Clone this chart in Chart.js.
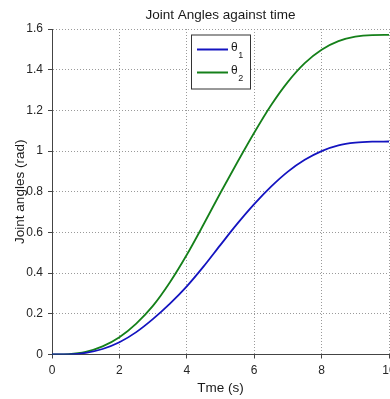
<!DOCTYPE html>
<html>
<head>
<meta charset="utf-8">
<script src="https://cdn.jsdelivr.net/npm/chart.js@4.4.1/dist/chart.umd.min.js"></script>
<style>
  html, body { margin: 0; padding: 0; background: #fff; overflow: hidden; }
  #wrap { position: relative; width: 390px; height: 399px; }
</style>
</head>
<body>
<div id="wrap"><canvas id="angleChart"></canvas></div>
<script>
// joint trajectories sampled every 0.5 s
var time   = [0, 0.5, 1, 1.5, 2, 2.5, 3, 3.5, 4, 4.5, 5, 5.5, 6, 6.5, 7, 7.5, 8, 8.5, 9, 9.5, 10];
var theta1 = [0, 0.001, 0.008, 0.027, 0.06, 0.11, 0.175, 0.25, 0.335, 0.433, 0.539, 0.643, 0.739, 0.825, 0.899, 0.957, 1.0, 1.028, 1.041, 1.046, 1.047];
var theta2 = [0, 0.002, 0.013, 0.04, 0.085, 0.152, 0.24, 0.355, 0.49, 0.64, 0.795, 0.945, 1.09, 1.225, 1.34, 1.432, 1.498, 1.54, 1.562, 1.57, 1.571];

var xTicks = [0, 2, 4, 6, 8, 10];
var yTicks = [0, 0.2, 0.4, 0.6, 0.8, 1, 1.2, 1.4, 1.6];

var seriesLabels = ['θ1', 'θ2']; // trailing digit is drawn as a subscript
var seriesColors = ['#1414c0', '#15801a'];

var titleText = 'Joint Angles against time';
var narrow = '"Liberation Sans Narrow", "Liberation Sans", Arial, sans-serif';

function toPoints(ys) {
  return time.map(function(t, i) { return { x: t, y: ys[i] }; });
}

// title + boxed legend, MATLAB style
var decor = {
  id: 'decor',
  afterDraw: function(chart) {
    var ctx = chart.ctx;
    var area = chart.chartArea;
    ctx.save();
    ctx.fillStyle = '#1a1a1a';
    ctx.font = '13.5px ' + narrow;
    ctx.textAlign = 'center';
    ctx.textBaseline = 'middle';
    ctx.fillText(titleText, (area.left + area.right) / 2, 15);

    // legend box
    var bx = 191, by = 34.5, bw = 59, bh = 54;
    ctx.fillStyle = '#fff';
    ctx.fillRect(bx, by, bw, bh);
    ctx.strokeStyle = '#333';
    ctx.lineWidth = 1;
    ctx.strokeRect(bx + 0.5, by + 0.5, bw, bh);

    chart.data.datasets.forEach(function(ds, i) {
      var ly = 49.5 + i * 23;
      ctx.strokeStyle = ds.borderColor;
      ctx.lineWidth = 2;
      ctx.beginPath();
      ctx.moveTo(197, ly);
      ctx.lineTo(228, ly);
      ctx.stroke();

      var sym = ds.label.slice(0, 1), sub = ds.label.slice(1);
      ctx.fillStyle = '#1a1a1a';
      ctx.textAlign = 'left';
      ctx.textBaseline = 'middle';
      ctx.font = '12px ' + narrow;
      ctx.fillText(sym, 231, ly - 1.5);
      var w = ctx.measureText(sym).width;
      ctx.font = '9px ' + narrow;
      ctx.fillText(sub, 231 + w + 0.5, ly + 6);
    });
    ctx.restore();
  }
};

var ctx = document.getElementById('angleChart').getContext('2d');
var angleChart = new Chart(ctx, {
  type: 'line',
  data: {
    datasets: [
      {
        label: seriesLabels[0],
        data: toPoints(theta1),
        borderColor: seriesColors[0],
        borderWidth: 1.8,
        pointRadius: 0,
        cubicInterpolationMode: 'monotone',
        fill: false
      },
      {
        label: seriesLabels[1],
        data: toPoints(theta2),
        borderColor: seriesColors[1],
        borderWidth: 1.8,
        pointRadius: 0,
        cubicInterpolationMode: 'monotone',
        fill: false
      }
    ]
  },
  options: {
    responsive: true,
    maintainAspectRatio: false,
    animation: false,
    layout: { padding: { top: 29, right: 1, bottom: 0, left: 0 } },
    plugins: {
      legend: { display: false },
      tooltip: { enabled: false },
      title: { display: false }
    },
    scales: {
      x: {
        type: 'linear',
        min: 0,
        max: 10,
        afterBuildTicks: function(scale) {
          scale.ticks = xTicks.map(function(v) { return { value: v }; });
        },
        afterFit: function(scale) {
          scale.height = 44.5;
          scale.paddingRight = 0;
        },
        ticks: {
          color: '#262626',
          padding: 5,
          maxRotation: 0,
          font: { family: narrow, size: 12 },
          callback: function(v) { return String(v); }
        },
        grid: { color: '#9a9a9a', lineWidth: 1, tickLength: 4, tickColor: '#444', tickWidth: 1, tickBorderDash: [] },
        border: { color: '#444', width: 1, dash: [1, 2] },
        title: {
          display: true,
          text: 'Tme (s)',
          color: '#1a1a1a',
          font: { family: narrow, size: 13.5 },
          padding: { top: 0, bottom: 3 }
        }
      },
      y: {
        type: 'linear',
        min: 0,
        max: 1.6,
        afterBuildTicks: function(scale) {
          scale.ticks = yTicks.map(function(v) { return { value: v }; });
        },
        afterFit: function(scale) {
          scale.width = 52;
        },
        ticks: {
          color: '#262626',
          padding: 5,
          font: { family: narrow, size: 12 },
          callback: function(v) { return String(Math.round(v * 10) / 10); }
        },
        grid: { color: '#9a9a9a', lineWidth: 1, tickLength: 4, tickColor: '#444', tickWidth: 1, tickBorderDash: [] },
        border: { color: '#444', width: 1, dash: [1, 2] },
        title: {
          display: true,
          text: 'Joint angles (rad)',
          color: '#1a1a1a',
          font: { family: '"Liberation Sans", Arial, sans-serif', size: 13.5 },
          padding: { top: 12, bottom: 0 }
        }
      }
    }
  },
  plugins: [decor]
});
</script>
</body>
</html>
